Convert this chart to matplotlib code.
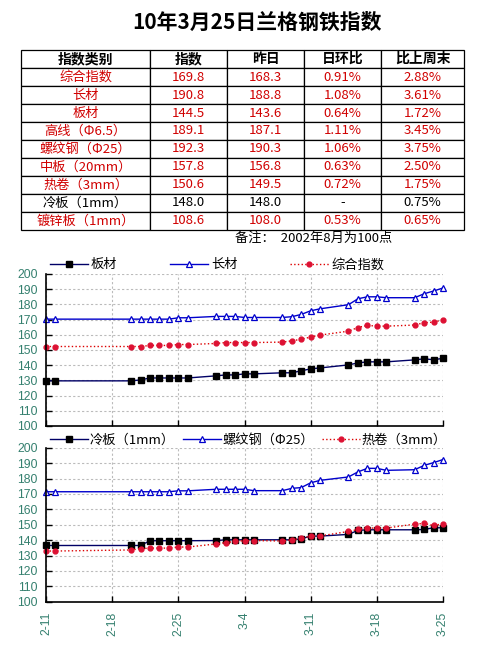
import matplotlib
matplotlib.use('Agg')
import matplotlib.pyplot as plt
import pandas as pd

plt.rcParams['font.family'] = ['Noto Sans CJK SC', 'DejaVu Sans']

# ---------------- data ----------------
title = '10年3月25日兰格钢铁指数'
note = '备注：  2002年8月为100点'

table_header = ['指数类别', '指数', '昨日', '日环比', '比上周末']
table_names = ['综合指数', '长材', '板材', '高线（Φ6.5）', '螺纹钢（Φ25）',
               '中板（20mm）', '热卷（3mm）', '冷板（1mm）', '镀锌板（1mm）']
table_index = ['169.8', '190.8', '144.5', '189.1', '192.3', '157.8', '150.6', '148.0', '108.6']
table_prev = ['168.3', '188.8', '143.6', '187.1', '190.3', '156.8', '149.5', '148.0', '108.0']
table_dod = ['0.91%', '1.08%', '0.64%', '1.11%', '1.06%', '0.63%', '0.72%', '-', '0.53%']
table_wow = ['2.88%', '3.61%', '1.72%', '3.45%', '3.75%', '2.50%', '1.75%', '0.75%', '0.65%']
table_black_rows = ['冷板（1mm）']

dates = ['2-11', '2-12', '2-20', '2-21', '2-22', '2-23', '2-24', '2-25', '2-26',
         '3-1', '3-2', '3-3', '3-4', '3-5',
         '3-8', '3-9', '3-10', '3-11', '3-12',
         '3-15', '3-16', '3-17', '3-18', '3-19',
         '3-22', '3-23', '3-24', '3-25']

plate = [129.7, 129.7, 129.7, 130.3, 131.6, 131.6, 131.6, 131.6, 131.6,
         133.0, 133.6, 133.6, 134.3, 134.3,
         135.0, 135.0, 136.3, 137.6, 138.2,
         140.2, 141.5, 142.2, 142.2, 142.2,
         143.5, 144.2, 143.6, 144.5]
long_prod = [170.3, 170.3, 170.3, 170.3, 170.3, 170.3, 170.3, 171.2, 171.2,
             172.1, 172.1, 172.1, 171.4, 171.4,
             171.4, 171.9, 173.4, 175.8, 177.1,
             179.8, 183.7, 185.0, 185.0, 184.4,
             184.4, 187.0, 188.8, 190.8]
composite = [152.3, 152.3, 152.3, 152.3, 153.0, 153.0, 153.0, 153.6, 153.6,
             154.3, 154.9, 154.9, 154.9, 154.9,
             155.2, 156.0, 157.1, 158.5, 159.8,
             162.4, 164.8, 166.2, 165.7, 165.7,
             166.4, 168.0, 168.3, 169.8]

cold = [136.5, 136.5, 136.5, 136.5, 139.6, 139.6, 139.6, 139.6, 139.6,
        139.7, 140.2, 140.2, 140.2, 140.2,
        140.2, 140.2, 140.8, 142.6, 142.6,
        143.7, 146.3, 146.7, 146.7, 146.7,
        146.7, 146.9, 148.0, 148.0]
rebar = [171.4, 171.4, 171.4, 171.4, 171.4, 171.4, 171.4, 172.0, 172.0,
         173.0, 173.0, 173.0, 173.0, 172.1,
         172.1, 173.6, 174.1, 177.2, 178.8,
         181.0, 184.3, 186.6, 186.6, 185.3,
         185.7, 188.5, 190.3, 192.3]
hot = [132.9, 132.9, 133.6, 134.4, 134.8, 134.8, 134.8, 135.5, 135.5,
       137.5, 138.4, 139.1, 139.7, 139.7,
       139.4, 140.2, 141.1, 142.6, 142.7,
       145.6, 146.9, 147.8, 147.8, 147.8,
       150.4, 150.8, 149.5, 150.6]

top_labels = ['板材', '长材', '综合指数']
bottom_labels = ['冷板（1mm）', '螺纹钢（Φ25）', '热卷（3mm）']

# ---------------- figure ----------------
W, H = 492, 661
fig = plt.figure(figsize=(W / 100, H / 100), dpi=100)
fig.patch.set_facecolor('white')

RED = '#D00000'
TEAL = '#35806F'

fig.text(257 / W, 1 - 22 / H, title, ha='center', va='center', fontsize=15, fontweight='bold')

# table
tax = fig.add_axes([0, 0, 1, 1])
tax.axis('off')
rows = [list(r) for r in zip(table_names, table_index, table_prev, table_dod, table_wow)]
colw = [129, 77, 77, 77, 83]
tot = sum(colw)
tbl = tax.table(cellText=rows, colLabels=table_header, cellLoc='center',
                colWidths=[c / tot for c in colw],
                bbox=[21 / W, 1 - 230 / H, 443 / W, 180 / H])
tbl.auto_set_font_size(False)
for (r, c), cell in tbl.get_celld().items():
    cell.set_edgecolor('black')
    cell.set_linewidth(0.9)
    cell.set_facecolor('white')
    t = cell.get_text()
    t.set_fontsize(9.5)
    if r == 0:
        t.set_fontweight('bold')
        t.set_fontsize(10)
        t.set_color('black')
    else:
        name = table_names[r - 1]
        t.set_color('black' if name in table_black_rows else RED)

fig.text(235 / W, 1 - 238 / H, note, ha='left', va='center', fontsize=9.5)

# x positions from dates
base = pd.Timestamp('2010-02-11')
dts = pd.to_datetime(['2010-' + d for d in dates], format='%Y-%m-%d')
x = [(d - base).days for d in dts]
span = x[-1] - x[0]
week_ticks = list(range(0, span + 1, 7))
week_labels = [f'{(base + pd.Timedelta(days=t)).month}-{(base + pd.Timedelta(days=t)).day}' for t in week_ticks]


def style_axes(ax, show_x):
    ax.set_xlim(0, span)
    ax.set_ylim(100, 200)
    ax.set_yticks(range(100, 201, 10))
    ax.set_xticks(week_ticks)
    ax.grid(True, color='#BBBBBB', linestyle=(0, (2, 2)), linewidth=0.8)
    ax.set_axisbelow(True)
    for s in ['top', 'right']:
        ax.spines[s].set_visible(False)
    for s in ['left', 'bottom']:
        ax.spines[s].set_linewidth(1.2)
    ax.tick_params(direction='in', length=4, width=1, colors='black', labelcolor=TEAL,
                   labelsize=8.7)
    ax.tick_params(axis='y', pad=6)
    for lab in ax.get_yticklabels():
        lab.set_fontfamily('Liberation Sans')
    if show_x:
        ax.set_xticklabels(week_labels, rotation=90, fontfamily='Liberation Sans', fontsize=8.7)
        ax.tick_params(axis='x', pad=7)
    else:
        ax.set_xticklabels([])


def plot_three(ax, s1, s2, s3, labels):
    ax.plot(x, s1, color='#000066', lw=1, marker='s', ms=4.5, mfc='black', mec='black',
            label=labels[0], clip_on=False)
    ax.plot(x, s2, color='#0000CC', lw=1, marker='^', ms=4.5, mfc='white', mec='#0000CC',
            mew=0.9, label=labels[1], clip_on=False)
    ax.plot(x, s3, color='#DD0000', lw=1, linestyle=':', marker='o', ms=3.5, mfc='#DD1133',
            mec='#DD1133', label=labels[2], clip_on=False)


ax1 = fig.add_axes([46 / W, 1 - 426 / H, 397 / W, 152 / H])
plot_three(ax1, plate, long_prod, composite, top_labels)
style_axes(ax1, False)
ax1.legend(loc='center left', bbox_to_anchor=(0.01, 1.06), ncol=3, frameon=False,
           fontsize=9.5, handlelength=2.9, handletextpad=0.2, columnspacing=4.0,
           borderpad=0, borderaxespad=0)

ax2 = fig.add_axes([46 / W, 1 - 601.7 / H, 397 / W, 154 / H])
plot_three(ax2, cold, rebar, hot, bottom_labels)
style_axes(ax2, True)
ax2.legend(loc='center left', bbox_to_anchor=(0.01, 1.05), ncol=3, frameon=False,
           fontsize=9.5, handlelength=2.9, handletextpad=0.1, columnspacing=0.6,
           borderpad=0, borderaxespad=0)

fig.savefig('out.png', dpi=100, facecolor='white')
